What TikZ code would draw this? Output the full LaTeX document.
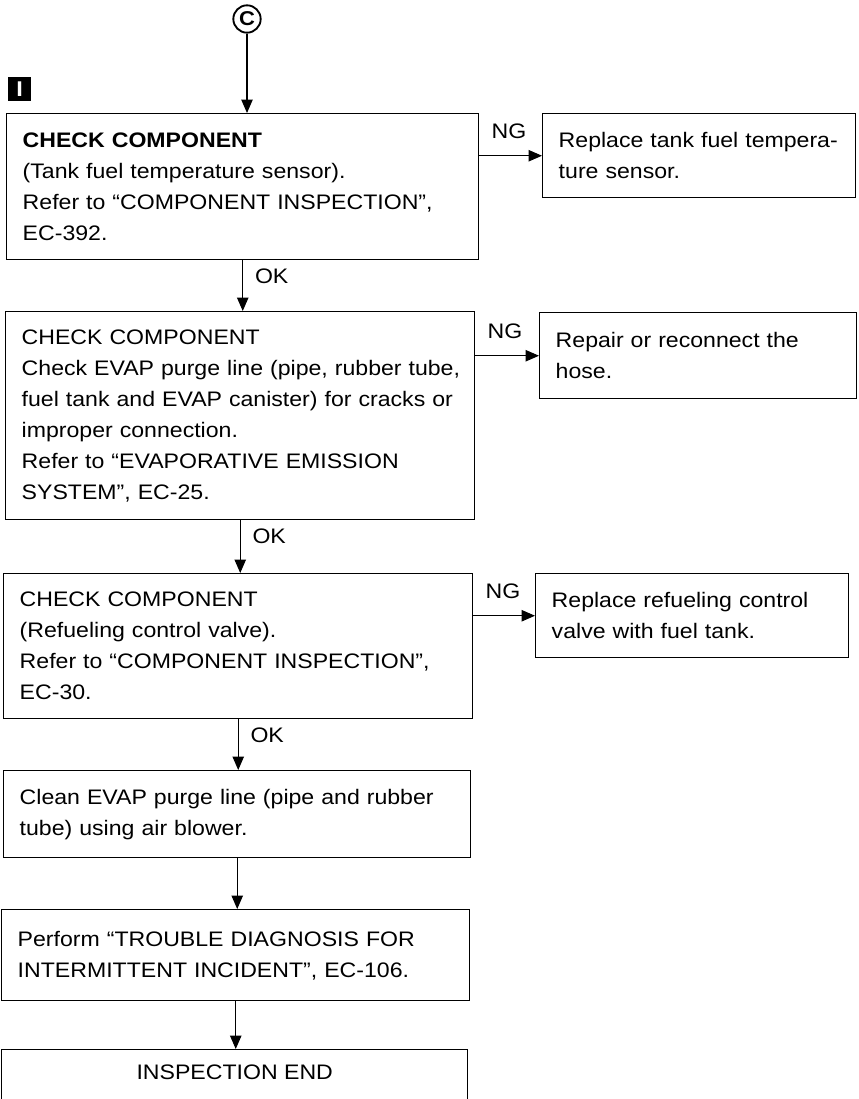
\documentclass[tikz,border=0pt]{standalone}
\usepackage{fontspec}
\setmainfont{Liberation Sans}[FakeStretch=1.1]
\usetikzlibrary{arrows.meta,calc}
\begin{document}
\begin{tikzpicture}[x=0.75pt,y=-0.75pt,
  txt/.style={font=\fontsize{15.75pt}{23.25pt}\selectfont},
  box/.style n args={3}{draw, line width=1.1pt, anchor=north west,
    minimum width=#1, minimum height=#2, text width=#3,
    inner xsep=12pt, inner ysep=0pt, align=left, txt},
  arr/.style={line width=0.8pt, -{Triangle[length=10pt,width=8.5pt]}},
  lab/.style={txt, anchor=base west, inner sep=0pt}]
\useasboundingbox (0,0) rectangle (858,1099);
\clip (0,0) rectangle (858,1099);

% marker and connector symbol
\node[draw, circle, line width=1.4pt, minimum size=20.5pt, inner sep=0pt,
  font=\bfseries\fontsize{15pt}{15pt}\selectfont] (c) at (247,19) {C};
\node[fill=black, text=white, minimum width=17pt, minimum height=17.5pt,
  inner sep=0pt, anchor=north west,
  font=\bfseries\fontsize{16pt}{16pt}\selectfont] (m) at (8,77) {I};

% main column
\node[box={354pt}{109.5pt}{330pt}] (b1) at (6,113)
  {\textbf{CHECK COMPONENT}\\(Tank fuel temperature sensor).\\\mbox{Refer to “COMPONENT INSPECTION”,}\\EC-392.};
\node[box={351.75pt}{156pt}{327.75pt}] (b2) at (5,311)
  {CHECK COMPONENT\\\mbox{Check EVAP purge line (pipe, rubber tube,}\\\mbox{fuel tank and EVAP canister) for cracks or}\\improper connection.\\Refer to “EVAPORATIVE EMISSION\\SYSTEM”, EC-25.};
\node[box={351.75pt}{108.75pt}{327.75pt}] (b3) at (3,573)
  {CHECK COMPONENT\\(Refueling control valve).\\\mbox{Refer to “COMPONENT INSPECTION”,}\\EC-30.};
\node[box={350.25pt}{65.25pt}{326.25pt}] (b4) at (3,770)
  {\mbox{Clean EVAP purge line (pipe and rubber}\\tube) using air blower.};
\node[box={351pt}{68.25pt}{327pt}] (b5) at (1,909)
  {Perform “TROUBLE DIAGNOSIS FOR\\\mbox{INTERMITTENT INCIDENT”, EC-106.}};
\node[box={349.5pt}{75pt}{325.5pt}] (b6) at (1,1049) {};
\node[txt, inner sep=0pt] (t6) at ($(b6.north)+(0,23)$) {INSPECTION END};

% right column
\node[box={234.75pt}{63pt}{210.75pt}] (r1) at (542,113)
  {\mbox{Replace tank fuel tempera-}\\ture sensor.};
\node[box={237.75pt}{64.5pt}{213.75pt}] (r2) at (539,312)
  {Repair or reconnect the\\hose.};
\node[box={234.75pt}{63pt}{210.75pt}] (r3) at (535,573)
  {\mbox{Replace refueling control}\\valve with fuel tank.};

% connectors
\draw[arr] (c.south) -- (c.south |- b1.north);
\draw[arr] (b1.south) -- (b1.south |- b2.north);
\draw[arr] (b2.south) -- (b2.south |- b3.north);
\draw[arr] (b3.south) -- (b3.south |- b4.north);
\draw[arr] (b4.south) -- (b4.south |- b5.north);
\draw[arr] (b5.south) -- (b5.south |- b6.north);
\draw[arr] (b1.east |- r1.west) -- (r1.west);
\draw[arr] (b2.east |- r2.west) -- (r2.west);
\draw[arr] (b3.east |- r3.west) -- (r3.west);

% labels
\node[lab] (ok1) at ($(b1.south)+(12,23)$) {OK};
\node[lab] (ok2) at ($(b2.south)+(12,23)$) {OK};
\node[lab] (ok3) at ($(b3.south)+(12,23)$) {OK};
\node[lab] (ng1) at ($(b1.east |- r1.west)+(12,-17)$) {NG};
\node[lab] (ng2) at ($(b2.east |- r2.west)+(12,-17)$) {NG};
\node[lab] (ng3) at ($(b3.east |- r3.west)+(12,-17)$) {NG};
\end{tikzpicture}
\end{document}
